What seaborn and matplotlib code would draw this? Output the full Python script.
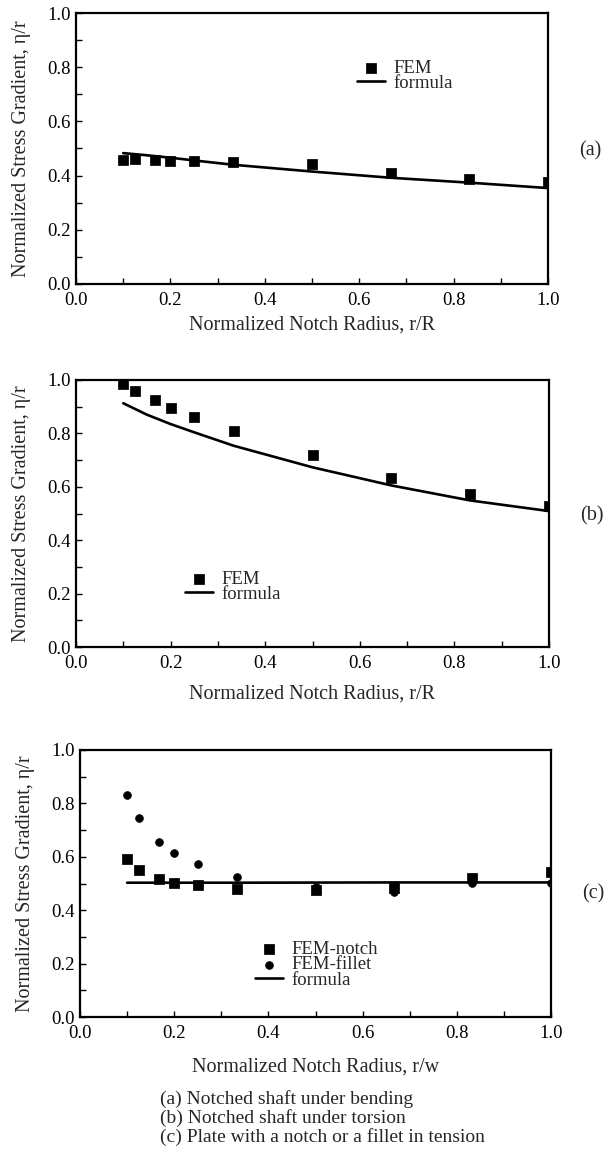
import matplotlib
matplotlib.use("Agg")
import matplotlib.pyplot as plt
import seaborn as sns
from matplotlib.ticker import MultipleLocator, FormatStrFormatter

# ---------------- data ----------------
r_fem = [0.1, 0.125, 0.167, 0.2, 0.25, 0.333, 0.5, 0.667, 0.833, 1.0]

a_fem = [0.458, 0.461, 0.456, 0.455, 0.455, 0.452, 0.441, 0.409, 0.388, 0.376]
a_formula_x = [0.1, 0.15, 0.2, 0.25, 0.333, 0.5, 0.667, 0.833, 1.0]
a_formula = [0.483, 0.475, 0.466, 0.456, 0.440, 0.415, 0.392, 0.374, 0.354]

b_fem = [0.985, 0.958, 0.925, 0.895, 0.863, 0.810, 0.720, 0.632, 0.574, 0.527]
b_formula_x = [0.1, 0.15, 0.2, 0.25, 0.333, 0.5, 0.667, 0.833, 1.0]
b_formula = [0.913, 0.870, 0.835, 0.804, 0.754, 0.673, 0.605, 0.549, 0.509]

c_notch = [0.591, 0.551, 0.516, 0.501, 0.495, 0.479, 0.476, 0.483, 0.520, 0.542]
c_fillet = [0.832, 0.744, 0.657, 0.613, 0.574, 0.526, 0.488, 0.468, 0.503, 0.502]
c_formula_x = [0.1, 0.333, 0.667, 1.0]
c_formula = [0.503, 0.503, 0.504, 0.504]

x_ticks = [0.0, 0.2, 0.4, 0.6, 0.8, 1.0]
y_ticks = [0.0, 0.2, 0.4, 0.6, 0.8, 1.0]
ylabel = "Normalized Stress Gradient, \u03b7/r"
xlabels = ["Normalized Notch Radius, r/R", "Normalized Notch Radius, r/R",
           "Normalized Notch Radius, r/w"]
panel_tags = ["(a)", "(b)", "(c)"]
captions = ["(a) Notched shaft under bending",
            "(b) Notched shaft under torsion",
            "(c) Plate with a notch or a fillet in tension"]

# ---------------- style ----------------
sns.set_style("ticks")
plt.rcParams['font.family'] = ['Liberation Serif', 'DejaVu Serif']

W, H = 610, 1167
fig = plt.figure(figsize=(W / 100, H / 100), dpi=100)


def px_axes(left, top, right, bottom):
    return fig.add_axes([left / W, 1 - bottom / H, (right - left) / W, (bottom - top) / H])


boxes = [(76, 13, 548, 284), (76, 380, 549, 647), (80, 750, 551, 1017)]
axes = [px_axes(*b) for b in boxes]
xlabel_y = [-0.118, -0.14, -0.15]

FS_TICK = 13.5
FS_LAB = 14.5
FS_CAP = 14
MS_SQ = 44
MS_CI = 32
LW = 1.9


def style(ax, i):
    ax.set_xlim(0, 1.0)
    ax.set_ylim(0, 1.0)
    ax.set_xticks(x_ticks)
    ax.set_yticks(y_ticks)
    ax.xaxis.set_major_formatter(FormatStrFormatter("%.1f"))
    ax.yaxis.set_major_formatter(FormatStrFormatter("%.1f"))
    ax.xaxis.set_minor_locator(MultipleLocator(0.1))
    ax.yaxis.set_minor_locator(MultipleLocator(0.1))
    ax.tick_params(which="both", direction="in", length=4, width=1.0,
                   labelsize=FS_TICK, color="black", labelcolor="black")
    ax.tick_params(axis="x", pad=6)
    ax.tick_params(axis="y", pad=4)
    for s in ax.spines.values():
        s.set_linewidth(1.6)
        s.set_color("black")
        s.set_visible(True)
    ax.set_ylabel(ylabel, fontsize=FS_LAB)
    ax.yaxis.set_label_coords(-0.095, 0.5)
    ax.set_xlabel(xlabels[i], fontsize=FS_LAB)
    ax.xaxis.set_label_coords(0.5, xlabel_y[i])
    ax.text(1.09, 0.49 if i < 2 else 0.46, panel_tags[i], transform=ax.transAxes,
            fontsize=FS_LAB, ha="center", va="center")
    ax.grid(False)


def make_legend(ax, order, anchor):
    h, l = ax.get_legend_handles_labels()
    d = dict(zip(l, h))
    ax.legend([d[k] for k in order], order, loc="center left", bbox_to_anchor=anchor,
              frameon=False, fontsize=FS_TICK, handlelength=1.5, handletextpad=0.45,
              labelspacing=-0.1, borderpad=0, borderaxespad=0)


# panel (a)
ax = axes[0]
sns.lineplot(x=a_formula_x, y=a_formula, color="black", lw=LW, label="formula", ax=ax)
sns.scatterplot(x=r_fem, y=a_fem, marker="s", color="black", edgecolor="black",
                s=MS_SQ, label="FEM", ax=ax, zorder=3)
style(ax, 0)
make_legend(ax, ["FEM", "formula"], (0.595, 0.768))

# panel (b)
ax = axes[1]
sns.lineplot(x=b_formula_x, y=b_formula, color="black", lw=LW, label="formula", ax=ax)
sns.scatterplot(x=r_fem, y=b_fem, marker="s", color="black", edgecolor="black",
                s=MS_SQ, label="FEM", ax=ax, zorder=3)
style(ax, 1)
make_legend(ax, ["FEM", "formula"], (0.231, 0.226))

# panel (c)
ax = axes[2]
sns.lineplot(x=c_formula_x, y=c_formula, color="black", lw=LW, label="formula", ax=ax)
sns.scatterplot(x=r_fem, y=c_fillet, marker="o", color="black", edgecolor="black",
                s=MS_CI, label="FEM-fillet", ax=ax, zorder=3)
sns.scatterplot(x=r_fem, y=c_notch, marker="s", color="black", edgecolor="black",
                s=MS_SQ, label="FEM-notch", ax=ax, zorder=4)
style(ax, 2)
make_legend(ax, ["FEM-notch", "FEM-fillet", "formula"], (0.372, 0.195))

# captions
for k, cap in enumerate(captions):
    fig.text(160 / W, 1 - (1099 + 19 * k) / H, cap, fontsize=FS_CAP,
             ha="left", va="center")

fig.savefig("out.png", dpi=100)
